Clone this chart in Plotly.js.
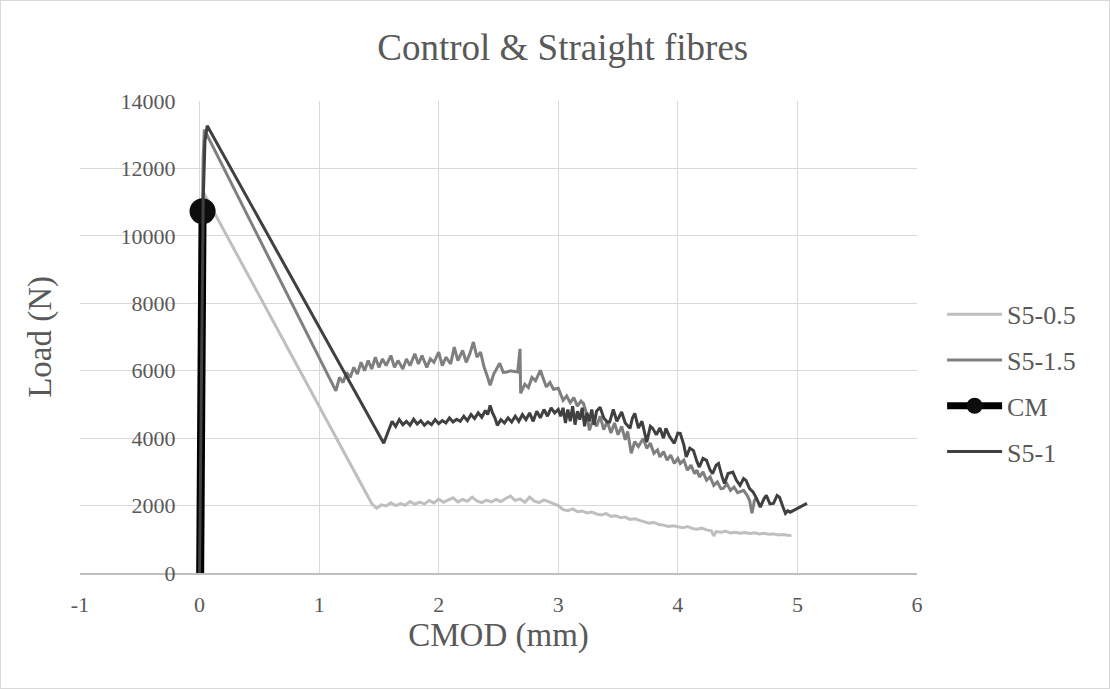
<!DOCTYPE html>
<html>
<head>
<meta charset="utf-8">
<script src="https://cdn.plot.ly/plotly-3.0.1.min.js"></script>
<style>
  html, body { margin: 0; padding: 0; background: #ffffff; }
  #chart { width: 1108px; height: 687px; border: 1px solid #d9d9d9; }
</style>
</head>
<body>
<div id="chart"></div>
<script>
// ---- Data (CMOD in mm, Load in N) ----
const seriesNames = ["S5-0.5", "S5-1.5", "CM", "S5-1"];

const s05 = [[0,0],[0.005,1500],[0.01,4200],[0.015,7500],[0.02,10000],[0.03,11300],
[1.44,2060],[1.48,1920],[1.52,2020],[1.56,1990],[1.6,2080],[1.64,2000],[1.68,2060],[1.72,2010],[1.76,2120],[1.8,2040],
[1.84,2100],[1.88,2050],[1.92,2150],[1.96,2080],[2.0,2190],[2.04,2100],[2.08,2160],[2.12,2230],[2.16,2110],[2.2,2180],
[2.24,2130],[2.28,2250],[2.32,2140],[2.36,2090],[2.4,2160],[2.44,2110],[2.48,2180],[2.52,2120],[2.56,2210],[2.6,2280],
[2.64,2150],[2.68,2200],[2.72,2100],[2.76,2250],[2.8,2130],[2.84,2090],[2.88,2170],[2.92,2120],[2.96,2060],[3.0,2000],
[3.04,1880],[3.08,1850],[3.12,1900],[3.16,1820],[3.2,1840],[3.24,1780],[3.28,1810],[3.32,1750],[3.36,1720],[3.4,1760],
[3.44,1680],[3.48,1700],[3.52,1640],[3.56,1660],[3.6,1590],[3.64,1610],[3.68,1560],[3.72,1520],[3.76,1480],[3.8,1500],
[3.84,1440],[3.88,1420],[3.92,1380],[3.96,1400],[4.0,1360],[4.04,1340],[4.08,1380],[4.12,1320],[4.16,1300],[4.2,1330],
[4.24,1280],[4.28,1250],[4.3,1100],[4.32,1230],[4.36,1210],[4.4,1240],[4.44,1190],[4.48,1210],[4.52,1180],[4.56,1200],
[4.6,1170],[4.64,1190],[4.68,1160],[4.72,1180],[4.76,1150],[4.8,1160],[4.84,1130],[4.88,1140],[4.92,1120],[4.95,1110]];

const s15 = [[0,0],[0.005,2500],[0.01,5500],[0.02,9500],[0.03,12300],[0.04,13150],
[1.14,5400],[1.17,5800],[1.2,5650],[1.23,5950],[1.26,5800],[1.29,6100],[1.32,5900],[1.35,6250],[1.38,6000],[1.41,6300],
[1.44,6050],[1.47,6400],[1.5,6100],[1.53,6350],[1.56,6150],[1.6,6450],[1.63,6100],[1.66,6300],[1.7,6050],[1.73,6350],
[1.76,6150],[1.8,6500],[1.83,6200],[1.86,6450],[1.9,6100],[1.93,6350],[1.96,6250],[2.0,6550],[2.03,6150],[2.06,6400],
[2.1,6200],[2.13,6700],[2.16,6300],[2.2,6600],[2.23,6250],[2.26,6500],[2.29,6850],[2.32,6400],[2.35,6550],[2.38,6100],
[2.41,5800],[2.43,5570],[2.46,5900],[2.49,6100],[2.51,6220],[2.54,5950],[2.57,5960],[2.6,6000],[2.63,5980],[2.66,5960],
[2.68,6650],[2.685,5330],[2.72,5600],[2.75,5500],[2.78,5800],[2.81,5700],[2.85,6010],[2.88,5750],[2.9,5520],[2.93,5650],
[2.96,5450],[3.0,5480],[3.02,5300],[3.04,5120],[3.07,5250],[3.1,5050],[3.13,5200],[3.16,4950],[3.19,5100],[3.21,5030],
[3.24,4700],[3.26,4230],[3.29,4550],[3.32,4350],[3.35,4650],[3.38,4250],[3.41,4500],[3.44,4150],[3.47,4450],[3.5,4100],
[3.53,4350],[3.56,3950],[3.58,4200],[3.61,3550],[3.64,3900],[3.67,3750],[3.71,3990],[3.74,3700],[3.77,3850],[3.8,3550],
[3.83,3650],[3.85,3440],[3.88,3600],[3.91,3350],[3.94,3500],[3.97,3250],[4.0,3400],[4.02,3250],[4.05,3350],[4.08,3050],
[4.11,3200],[4.14,2950],[4.16,3050],[4.18,2845],[4.21,3000],[4.24,2750],[4.27,2850],[4.3,2600],[4.33,2700],[4.36,2500],
[4.38,2510],[4.41,2650],[4.44,2450],[4.47,2550],[4.5,2380],[4.52,2400],[4.55,2450],[4.58,2300],[4.6,2150],[4.62,1770],
[4.64,2150],[4.66,2250]];

const cm = [[0.005,0],[0.006,2000],[0.008,5000],[0.01,8000],[0.012,10000],[0.025,10730]];

const s1 = [[0,0],[0.005,2000],[0.01,5000],[0.02,8500],[0.03,11000],[0.045,12800],[0.064,13266],
[1.54,3850],[1.57,4150],[1.59,4330],[1.61,4500],[1.64,4350],[1.67,4550],[1.7,4400],[1.73,4500],[1.76,4380],[1.79,4560],
[1.82,4420],[1.85,4520],[1.88,4380],[1.91,4480],[1.94,4400],[1.97,4550],[2.0,4430],[2.03,4520],[2.06,4450],[2.09,4600],
[2.12,4480],[2.15,4560],[2.18,4500],[2.21,4650],[2.24,4520],[2.27,4700],[2.3,4580],[2.33,4750],[2.36,4620],[2.39,4820],
[2.41,4700],[2.43,4970],[2.45,4750],[2.47,4600],[2.49,4380],[2.52,4550],[2.55,4450],[2.58,4600],[2.61,4480],[2.64,4650],
[2.67,4500],[2.7,4700],[2.73,4550],[2.76,4750],[2.79,4500],[2.82,4800],[2.85,4600],[2.88,4850],[2.91,4650],[2.94,4900],
[2.97,4750],[3.0,4850],[3.02,4650],[3.04,4900],[3.06,4450],[3.08,4850],[3.1,4500],[3.12,4950],[3.14,4400],[3.16,4800],
[3.18,4550],[3.2,4900],[3.22,4350],[3.24,4750],[3.26,4500],[3.28,4850],[3.3,4400],[3.32,4800],[3.35,4920],[3.38,4600],
[3.41,4480],[3.43,4477],[3.46,4850],[3.49,4500],[3.53,4774],[3.56,4450],[3.6,4290],[3.62,4600],[3.64,4735],[3.67,4300],
[3.7,4500],[3.74,3884],[3.77,4350],[3.79,4290],[3.82,4100],[3.85,4300],[3.88,4000],[3.9,4290],[3.93,4050],[3.97,3845],
[4.0,4150],[4.02,4142],[4.05,3800],[4.07,3440],[4.1,3700],[4.13,3637],[4.16,3300],[4.18,3143],[4.21,3400],[4.24,3340],
[4.27,3050],[4.29,2945],[4.32,3200],[4.34,3250],[4.37,2850],[4.39,2657],[4.42,2950],[4.46,2993],[4.49,2750],[4.52,2598],
[4.55,2800],[4.57,2747],[4.6,2500],[4.63,2400],[4.66,2200],[4.69,1954],[4.72,2200],[4.74,2301],[4.77,2050],[4.8,2063],
[4.83,2300],[4.85,2250],[4.88,1950],[4.9,1767],[4.92,1850],[4.94,1805],[5.08,2063]];

const xTicks = [-1, 0, 1, 2, 3, 4, 5, 6];
const yTicks = [0, 2000, 4000, 6000, 8000, 10000, 12000, 14000];

const titleText = "Control & Straight fibres";
const xTitle = "CMOD (mm)";
const yTitle = "Load (N)";

// ---- Helpers ----
const xs = a => a.map(p => p[0]);
const ys = a => a.map(p => p[1]);
const FONT = "Liberation Serif";
const TXT = "#595959";

const cmLast = cm[cm.length - 1];

const traces = [
  { name: seriesNames[0], x: xs(s05), y: ys(s05), type: "scatter", mode: "lines",
    line: { color: "#bfbfbf", width: 3 }, legendgroup: "a" },
  { name: seriesNames[1], x: xs(s15), y: ys(s15), type: "scatter", mode: "lines",
    line: { color: "#7f7f7f", width: 3 }, legendgroup: "b" },
  { name: seriesNames[2], x: xs(cm), y: ys(cm), type: "scatter", mode: "lines",
    line: { color: "#000000", width: 8 }, legendgroup: "c", showlegend: false },
  { name: seriesNames[2], x: [cmLast[0]], y: [cmLast[1]], type: "scatter", mode: "lines+markers",
    line: { color: "#000000", width: 7 }, marker: { color: "#0d0d0d", size: 26 }, legendgroup: "c" },
  { name: seriesNames[3], x: xs(s1), y: ys(s1), type: "scatter", mode: "lines",
    line: { color: "#404040", width: 3 }, legendgroup: "d" }
];

const layout = {
  width: 1108, height: 687,
  margin: { l: 79, r: 192, t: 100, b: 115 },
  paper_bgcolor: "#ffffff", plot_bgcolor: "#ffffff",
  font: { family: FONT, color: TXT },
  title: { text: titleText, font: { family: FONT, size: 37, color: TXT },
           xref: "container", x: 0.507, xanchor: "center",
           yref: "container", y: 0.933, yanchor: "middle" },
  xaxis: {
    range: [-1, 6], tickvals: xTicks, ticktext: xTicks.map(String),
    showgrid: true, gridcolor: "#d9d9d9", gridwidth: 1,
    zeroline: false, showline: true, linecolor: "#bfbfbf", linewidth: 1.5,
    ticks: "", tickfont: { family: FONT, size: 22, color: TXT }, ticklabelstandoff: 11,
    title: { text: xTitle, font: { family: FONT, size: 33, color: TXT }, standoff: 0 },
    automargin: false, fixedrange: true
  },
  yaxis: {
    range: [0, 14000], tickvals: yTicks, ticktext: yTicks.map(String),
    anchor: "free", position: 1 / 7,
    showgrid: true, gridcolor: "#d9d9d9", gridwidth: 1,
    zeroline: false, showline: false,
    ticks: "", tickfont: { family: FONT, size: 22, color: TXT }, ticklabelstandoff: 24,
    automargin: false, fixedrange: true
  },
  annotations: [{
    text: yTitle, xref: "paper", yref: "paper", x: -0.048, y: 0.5,
    xanchor: "center", yanchor: "middle", textangle: -90, showarrow: false,
    font: { family: FONT, size: 33, color: TXT }
  }],
  legend: {
    x: 1.03, xanchor: "left", y: 0.598, yanchor: "top",
    font: { family: FONT, size: 26, color: TXT },
    bgcolor: "rgba(0,0,0,0)", borderwidth: 0,
    traceorder: "grouped", tracegroupgap: 9, itemwidth: 55
  },
  showlegend: true
};

Plotly.newPlot("chart", traces, layout, { displayModeBar: false, staticPlot: true });
</script>
</body>
</html>
